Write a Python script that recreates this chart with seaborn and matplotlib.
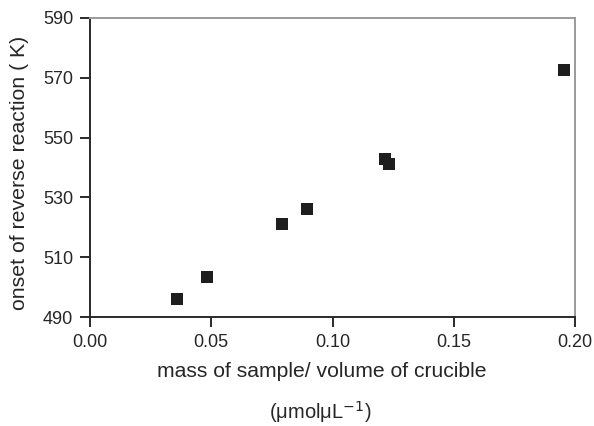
import pandas as pd
import matplotlib.pyplot as plt
import seaborn as sns

# values
mass_per_volume = [0.0359, 0.0483, 0.0792, 0.0895, 0.1216, 0.1233, 0.1955]
onset_temp = [496.1, 503.5, 521.2, 526.1, 542.8, 541.3, 572.6]

x_ticks = [0.00, 0.05, 0.10, 0.15, 0.20]
y_ticks = [490, 510, 530, 550, 570, 590]

df = pd.DataFrame({"mass": mass_per_volume, "onset": onset_temp})

sns.set_style("white")
plt.rcParams["font.family"] = ["Liberation Sans", "DejaVu Sans"]

fig = plt.figure(figsize=(5.94, 4.26), dpi=100)
ax = fig.add_axes([90 / 594, 1 - 317 / 426, 485 / 594, 299 / 426])

sns.scatterplot(data=df, x="mass", y="onset", marker="s", s=80,
                color="#1e1e1e", edgecolor="#1e1e1e", linewidth=0, ax=ax)

ax.set_xlim(0, 0.20)
ax.set_ylim(490, 590)
ax.set_xticks(x_ticks)
ax.set_xticklabels([f"{t:.2f}" for t in x_ticks])
ax.set_yticks(y_ticks)

for side in ["left", "bottom"]:
    ax.spines[side].set_color("#2a2a2a")
    ax.spines[side].set_linewidth(1.4)
for side in ["top", "right"]:
    ax.spines[side].set_color("#9a9a9a")
    ax.spines[side].set_linewidth(1.4)

ax.tick_params(axis="both", direction="out", length=7, width=1.4,
               color="#2a2a2a", labelsize=13, labelcolor="#262626",
               left=True, bottom=True)
ax.tick_params(axis="x", pad=5)
ax.tick_params(axis="y", pad=5)

ax.set_ylabel("onset of reverse reaction ( K)", fontsize=15.3, color="#262626")
ax.set_xlabel("mass of sample/ volume of crucible", fontsize=15.2, color="#262626")
ax.xaxis.set_label_coords(0.477, -0.152)
ax.yaxis.set_label_coords(-0.125, 0.483)

fig.text(320 / 594, 1 - 412 / 426, "(μmolμL$^{-1}$)", fontsize=14.5,
         color="#262626", ha="center", va="center")

fig.savefig("out.png", dpi=100)
